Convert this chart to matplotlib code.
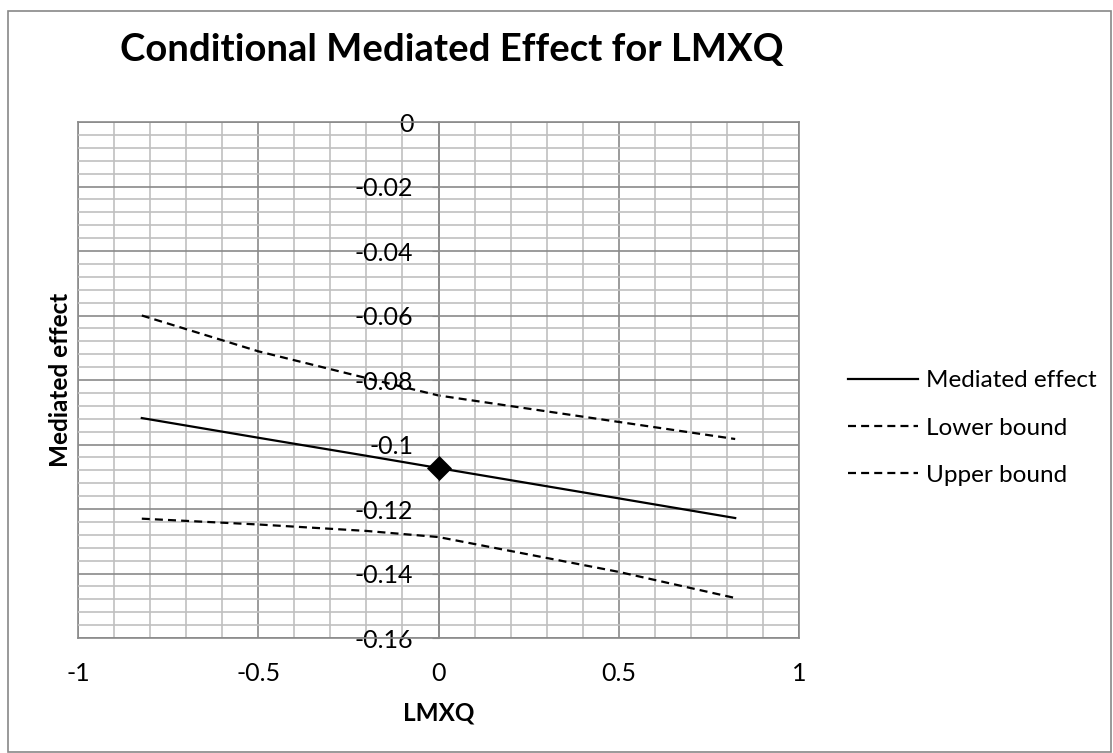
import matplotlib
matplotlib.use("Agg")
import matplotlib.pyplot as plt
from matplotlib.patches import Rectangle
import numpy as np

plt.rcParams['font.family'] = ['Lato', 'DejaVu Sans']

# ---- data ----
lmxq = [-0.823, -0.5, -0.2, 0.0, 0.5, 0.823]
mediated_effect = [-0.0918, -0.0979, -0.1035, -0.1073, -0.1167, -0.1228]
upper_bound = [-0.0600, -0.0711, -0.0794, -0.0848, -0.0930, -0.0983]
lower_bound = [-0.1230, -0.1248, -0.1268, -0.1287, -0.1395, -0.1476]
point_x = [0.0]
point_y = [-0.1073]

title = "Conditional Mediated Effect for LMXQ"
x_label = "LMXQ"
y_label = "Mediated effect"
series_labels = ["Mediated effect", "Lower bound", "Upper bound"]
x_ticks = [-1, -0.5, 0, 0.5, 1]
x_tick_labels = ["-1", "-0.5", "0", "0.5", "1"]
y_ticks = [0, -0.02, -0.04, -0.06, -0.08, -0.1, -0.12, -0.14, -0.16]
y_tick_labels = ["0", "-0.02", "-0.04", "-0.06", "-0.08", "-0.1", "-0.12", "-0.14", "-0.16"]

W, H = 1113, 753
fig = plt.figure(figsize=(W / 100, H / 100), dpi=100)
ax = fig.add_axes([78 / W, 1 - 638 / H, (799 - 78) / W, (638 - 122) / H])

major_c = '#8a8a8a'
minor_c = '#c0c0c0'

ax.set_xlim(-1, 1)
ax.set_ylim(-0.16, 0)
ax.set_xticks(x_ticks)
ax.set_xticklabels(x_tick_labels)
ax.set_yticks(y_ticks)
ax.set_yticklabels(y_tick_labels)
ax.set_xticks(np.arange(-1, 1.0001, 0.1), minor=True)
ax.set_yticks(np.arange(-0.16, 0.0001, 0.004), minor=True)
ax.grid(which='minor', color=minor_c, linewidth=1.2)
ax.grid(which='major', color=major_c, linewidth=1.2)
ax.set_axisbelow(True)

for s in ['top', 'right', 'bottom']:
    ax.spines[s].set_color(major_c)
    ax.spines[s].set_linewidth(1.2)
ax.spines['left'].set_position(('data', 0))
ax.spines['left'].set_color(major_c)
ax.spines['left'].set_linewidth(1.2)
ax.axvline(-1, color=major_c, linewidth=1.2, clip_on=False, zorder=0.5)

ax.tick_params(axis='both', which='minor', length=0)
ax.tick_params(axis='y', which='major', length=5, color=major_c, pad=13, labelsize=18)
ax.tick_params(axis='x', which='major', length=0, pad=17, labelsize=18)

ax.plot(lmxq, mediated_effect, color='black', linewidth=1.6, label=series_labels[0])
ax.plot(lmxq, upper_bound, color='black', linewidth=1.6, dashes=(3.6, 2.3), label=series_labels[1])
ax.plot(lmxq, lower_bound, color='black', linewidth=1.6, dashes=(3.6, 2.3), label=series_labels[2])
ax.plot(point_x, point_y, linestyle='none', marker='D', markersize=12.5,
        color='black', markeredgewidth=0.5, zorder=5)

ax.set_xlabel(x_label, fontsize=17.5, fontweight='bold')
ax.xaxis.set_label_coords(0.5, -(713 - 638) / 516, transform=ax.transAxes)
ax.xaxis.label.set_va('center')
ax.set_ylabel(y_label, fontsize=17.5, fontweight='bold')
ax.yaxis.set_label_coords(-(78 - 60) / 721, 0.5, transform=ax.transAxes)
ax.yaxis.label.set_va('center')

fig.text(452 / W, 1 - 50 / H, title, ha='center', va='center', fontsize=27.5, fontweight='bold')

ax.legend(loc='center left', bbox_to_anchor=(848 / W, 1 - 428 / H), bbox_transform=fig.transFigure,
          frameon=False, fontsize=17.5, handlelength=2.9, handletextpad=0.3, borderpad=0,
          borderaxespad=0, labelspacing=1.08)

fig.add_artist(Rectangle((8 / W, 1 / H), (1111 - 8) / W, (752 - 10) / H - 1 / H,
                         transform=fig.transFigure, fill=False, edgecolor='#888888', linewidth=1.2))

fig.savefig('out.png', dpi=100)
